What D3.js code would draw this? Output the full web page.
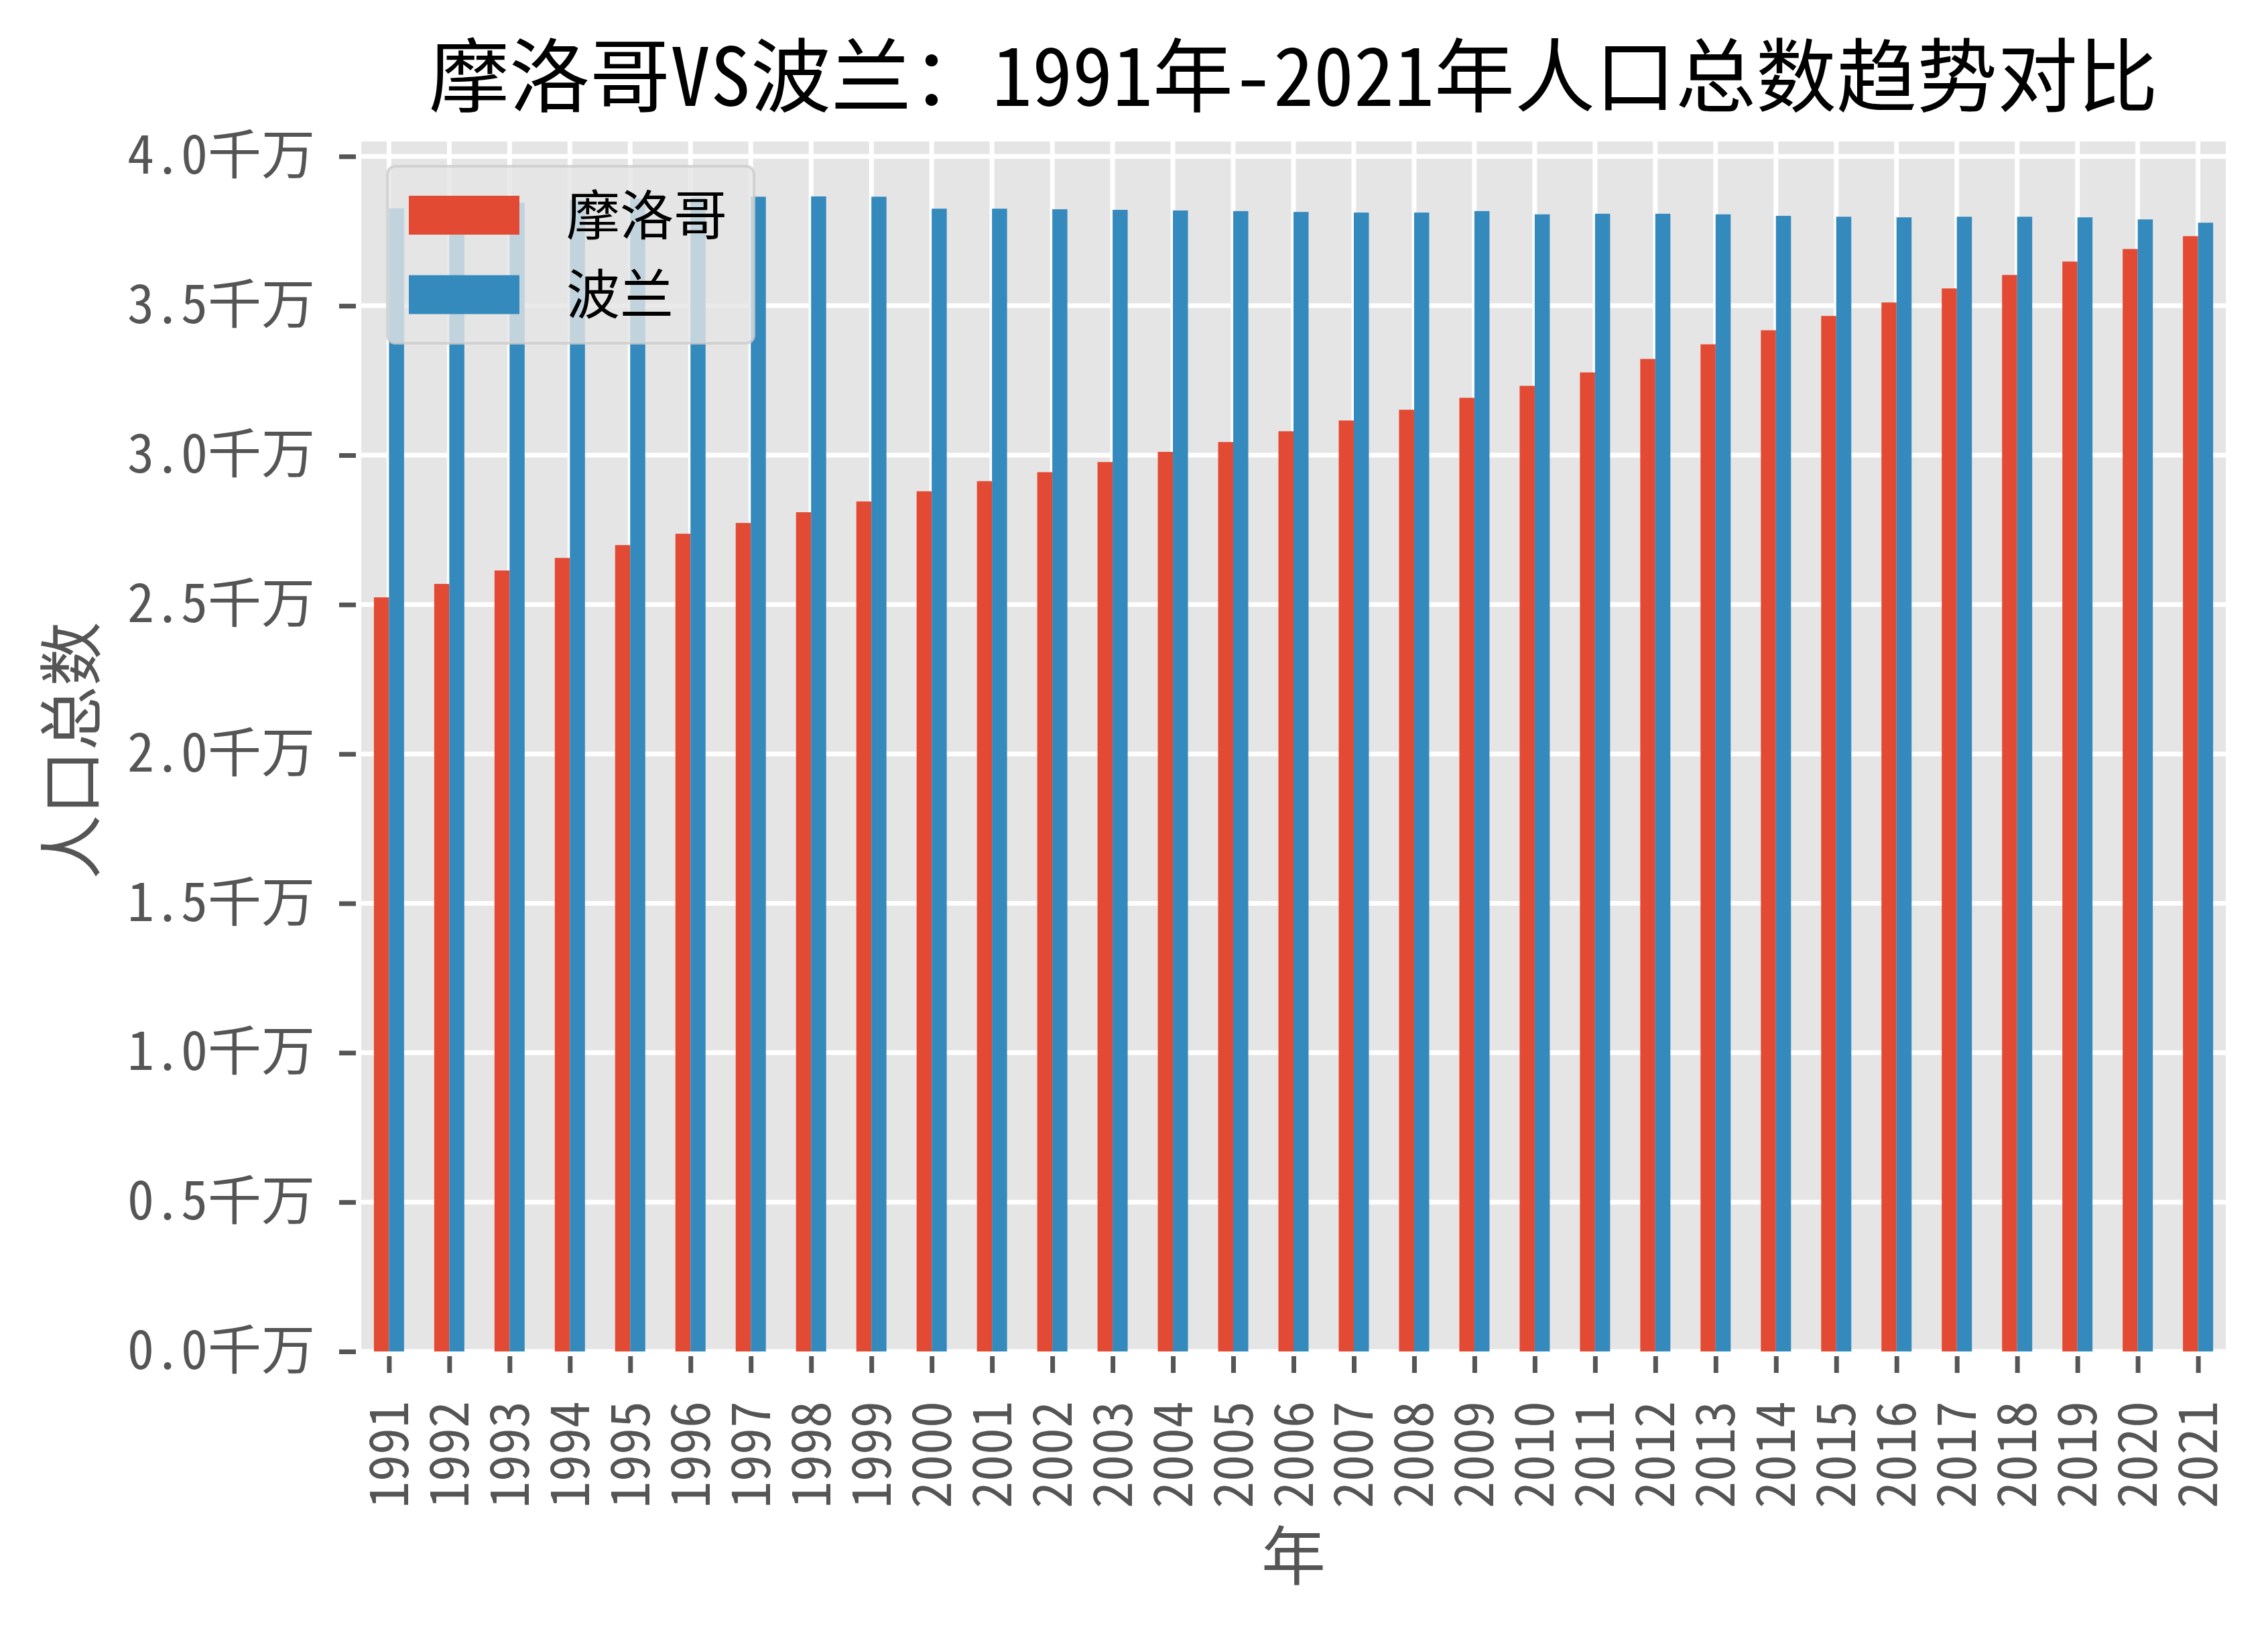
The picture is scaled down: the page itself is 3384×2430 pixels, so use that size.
<!DOCTYPE html>
<html>
<head>
<meta charset="utf-8">
<script src="https://cdn.jsdelivr.net/npm/d3@7/dist/d3.min.js"></script>
<style>
  html, body { margin: 0; padding: 0; background: #ffffff; }
  svg { display: block; }
</style>
</head>
<body>
<svg id="chart" width="3384" height="2430"></svg>
<script>
// ---- data (千万) ----
const years = ["1991","1992","1993","1994","1995","1996","1997","1998","1999","2000",
  "2001","2002","2003","2004","2005","2006","2007","2008","2009","2010",
  "2011","2012","2013","2014","2015","2016","2017","2018","2019","2020","2021"];
const morocco = [2.524,2.569,2.614,2.656,2.699,2.737,2.773,2.809,2.845,2.879,
  2.913,2.943,2.977,3.011,3.044,3.080,3.116,3.152,3.192,3.232,
  3.277,3.322,3.371,3.418,3.466,3.511,3.558,3.603,3.648,3.690,3.733];
const poland = [3.826,3.836,3.845,3.854,3.859,3.862,3.865,3.866,3.865,3.825,
  3.825,3.823,3.821,3.819,3.817,3.814,3.812,3.812,3.817,3.806,
  3.808,3.808,3.806,3.801,3.798,3.796,3.798,3.798,3.796,3.789,3.778];
const seriesNames = ["摩洛哥", "波兰"];
const seriesColors = ["#E24A33", "#348ABD"];
const yTicks = [0, 0.5, 1.0, 1.5, 2.0, 2.5, 3.0, 3.5, 4.0];
const titleText = "摩洛哥VS波兰：1991年-2021年人口总数趋势对比";
const xLabel = "年";
const yLabel = "人口总数";

// ---- layout ----
const L = 539, R = 3321, T = 211, B = 2016;
const tickFont = "'Noto Sans Mono CJK SC', 'Noto Sans CJK SC', sans-serif";
const cjkFont = "'Noto Sans CJK SC', sans-serif";
const svg = d3.select("#chart");

const x = d3.scalePoint().domain(years).range([L, R]).padding(0.46);
const y = d3.scaleLinear().domain([0, 4.05]).range([B, T]);
const bw = x.step() * 0.25;

// background
svg.append("rect").attr("x", L).attr("y", T).attr("width", R - L).attr("height", B - T)
  .attr("fill", "#E5E5E5");

// grid
const grid = svg.append("g");
grid.selectAll("line.h").data(yTicks).join("line")
  .attr("x1", L).attr("x2", R).attr("y1", d => y(d)).attr("y2", d => y(d))
  .attr("stroke", "#ffffff").attr("stroke-width", 7);
grid.selectAll("line.v").data(years).join("line")
  .attr("y1", T).attr("y2", B).attr("x1", d => x(d)).attr("x2", d => x(d))
  .attr("stroke", "#ffffff").attr("stroke-width", 7);

// bars
const seriesData = [morocco, poland];
seriesData.forEach((vals, si) => {
  svg.append("g").selectAll("rect").data(vals).join("rect")
    .attr("x", (d, i) => x(years[i]) + (si - 1) * bw)
    .attr("width", bw)
    .attr("y", d => y(d))
    .attr("height", d => y(0) - y(d))
    .attr("fill", seriesColors[si]);
});

// x axis
const xAxis = d3.axisBottom(x).tickSize(25).tickPadding(40);
const gx = svg.append("g").attr("transform", `translate(0,${B + 7})`).call(xAxis);
gx.select(".domain").remove();
gx.selectAll(".tick line").attr("stroke", "#555555").attr("stroke-width", 7);
gx.selectAll(".tick text")
  .attr("font-family", tickFont).attr("font-size", 80).attr("fill", "#555555")
  .attr("transform", "rotate(-90)")
  .attr("text-anchor", "end")
  .attr("x", -67).attr("y", 0).attr("dy", "0.35em");

// y axis
const yAxis = d3.axisLeft(y).tickValues(yTicks).tickSize(25).tickPadding(36)
  .tickFormat(d => d3.format(".1f")(d) + "千万");
const gy = svg.append("g").attr("transform", `translate(${L - 8},0)`).call(yAxis);
gy.select(".domain").remove();
gy.selectAll(".tick line").attr("stroke", "#555555").attr("stroke-width", 7);
gy.selectAll(".tick text")
  .attr("font-family", tickFont).attr("font-size", 80).attr("fill", "#555555");

// title
svg.append("text").attr("x", (L + R) / 2).attr("y", 158)
  .attr("text-anchor", "middle")
  .attr("font-family", tickFont).attr("font-size", 120).attr("font-weight", 500)
  .attr("fill", "#000000").text(titleText);

// axis labels
svg.append("text").attr("x", (L + R) / 2).attr("y", 2321).attr("dy", "0.36em")
  .attr("text-anchor", "middle").attr("font-family", cjkFont).attr("font-size", 96)
  .attr("fill", "#555555").text(xLabel);
svg.append("text").attr("transform", `translate(106,${(T + B) / 2 + 6}) rotate(-90)`)
  .attr("dy", "0.36em")
  .attr("text-anchor", "middle").attr("font-family", cjkFont).attr("font-size", 96)
  .attr("fill", "#555555").text(yLabel);

// legend
const lg = svg.append("g");
lg.append("rect").attr("x", 578).attr("y", 248).attr("width", 547).attr("height", 264)
  .attr("rx", 12).attr("fill", "#E5E5E5").attr("fill-opacity", 0.8)
  .attr("stroke", "#CCCCCC").attr("stroke-opacity", 0.8).attr("stroke-width", 4);
const rowY = [321, 439.5];
seriesNames.forEach((name, i) => {
  lg.append("rect").attr("x", 610).attr("y", rowY[i] - 29).attr("width", 165).attr("height", 58)
    .attr("fill", seriesColors[i]);
  lg.append("text").attr("x", 845).attr("y", rowY[i]).attr("dy", "0.36em")
    .attr("font-family", cjkFont).attr("font-size", 80).attr("fill", "#000000").text(name);
});
</script>
</body>
</html>
